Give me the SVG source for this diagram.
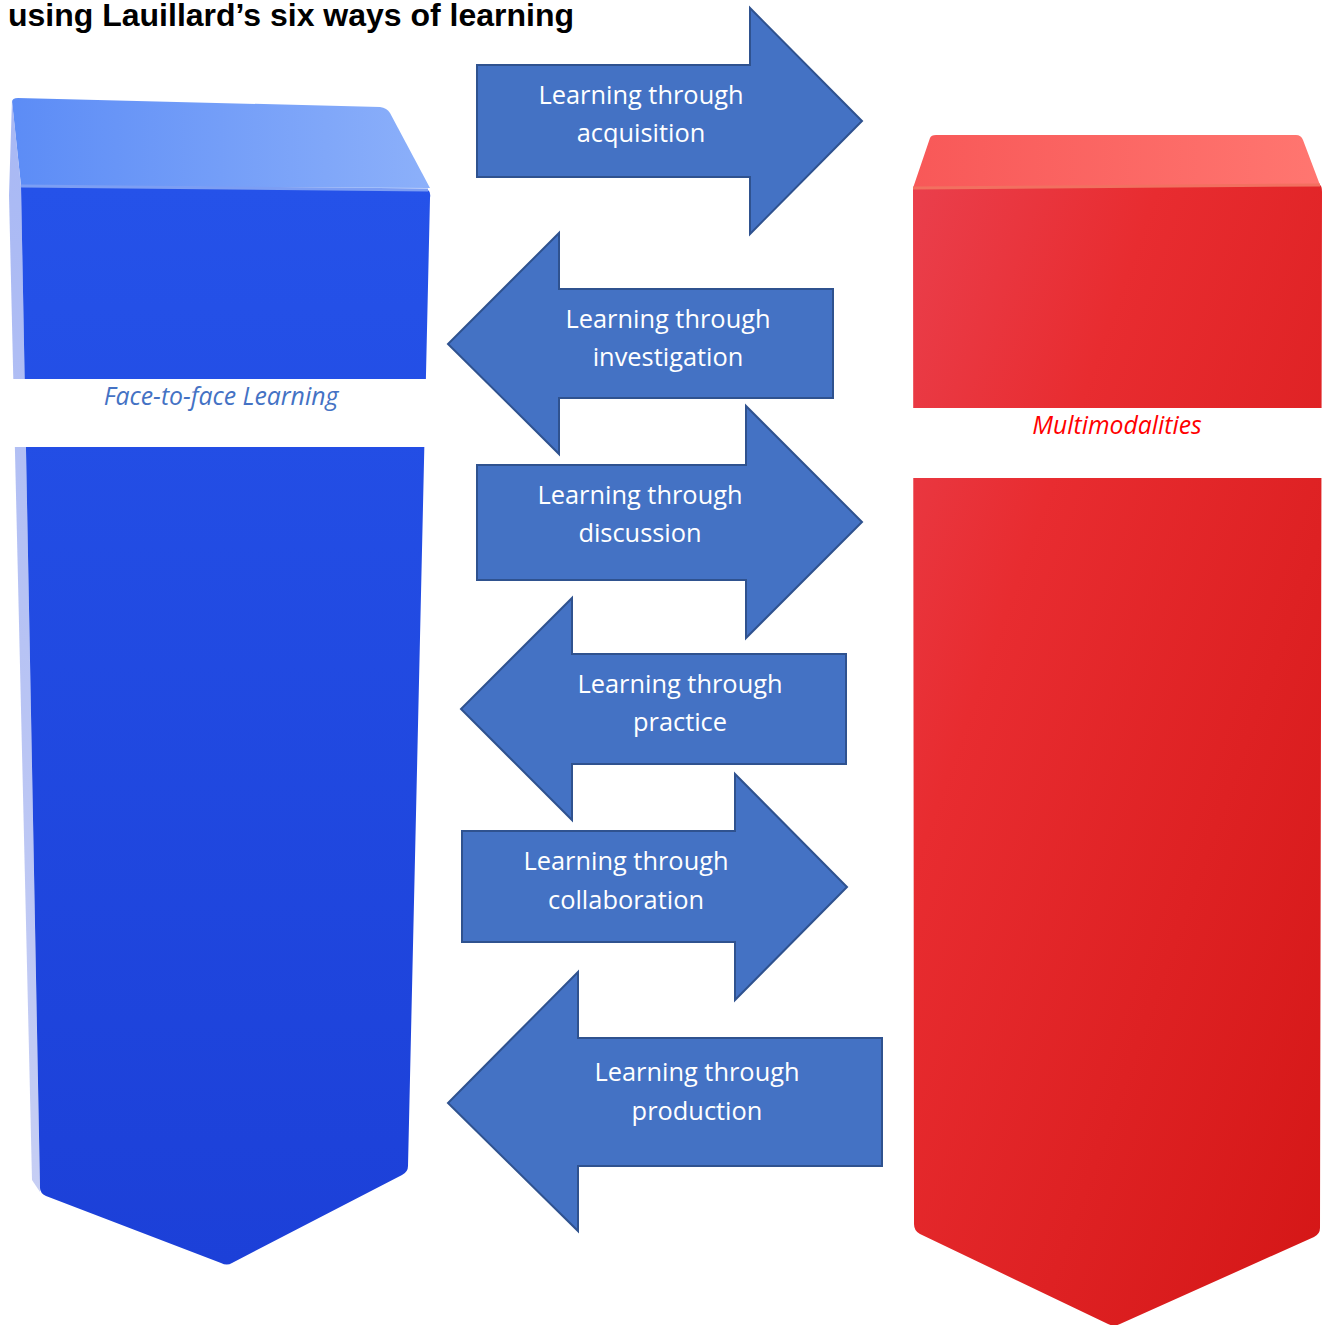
<svg xmlns="http://www.w3.org/2000/svg" width="1323" height="1325" viewBox="0 0 1323 1325">
<style>
.title{font-family:"Liberation Sans",Arial,sans-serif;font-weight:bold;font-size:32px;fill:#000}
.arrow{fill:#4472C4;stroke:#2F528F;stroke-width:2;stroke-linejoin:miter}
.at{font-family:"Open Sans","Noto Sans",sans-serif;font-size:25.4px;fill:#fff;text-anchor:middle}
.lbl{font-family:"Open Sans","Noto Sans",sans-serif;font-style:italic;font-size:24.8px;text-anchor:middle}
</style>
<defs>
<linearGradient id="bTop" x1="0" y1="0" x2="1" y2="0">
<stop offset="0" stop-color="#5C8CF6"/><stop offset="1" stop-color="#8CB0FA"/>
</linearGradient>
<linearGradient id="bFront" x1="0" y1="0" x2="0" y2="1">
<stop offset="0" stop-color="#2552E9"/><stop offset="1" stop-color="#1C40D8"/>
</linearGradient>
<linearGradient id="bSide" x1="0" y1="0" x2="0" y2="1">
<stop offset="0" stop-color="#A8B8F4"/><stop offset="1" stop-color="#C6CEF4"/>
</linearGradient>
<linearGradient id="rTop" x1="0" y1="0" x2="1" y2="0">
<stop offset="0" stop-color="#F85858"/><stop offset="1" stop-color="#FF7670"/>
</linearGradient>
<linearGradient id="rFront" x1="0" y1="0" x2="1" y2="1">
<stop offset="0" stop-color="#EA3F4C"/><stop offset="0.3" stop-color="#E82C30"/><stop offset="1" stop-color="#D41616"/>
</linearGradient>
</defs>
<text class="title" x="8" y="26">using Lauillard’s six ways of learning</text>

<g id="pillar-blue">
<path d="M12,102 Q12,98 18,98 L380,107 Q387,108 390,113 L430,188 L21,186 Z" fill="url(#bTop)"/>
<path d="M12,100 L21,186 L40,1192 L32,1180 L9,195 Z" fill="url(#bSide)"/>
<path d="M21,186 L428,190 Q431,192 430,198 L408,1166 Q408,1172 402,1175 L232,1263 Q227,1266 221,1263 L46,1196 Q40,1193 40,1188 Z" fill="url(#bFront)"/>
<path d="M21,186 L428,190" stroke="#7C9EF4" stroke-width="3" fill="none"/>
<rect x="0" y="379" width="440" height="68" fill="#fff"/>
<text class="lbl" x="221" y="405" fill="#4472C4">Face-to-face Learning</text>
</g>

<g id="pillar-red">
<path d="M930,138 Q931,135 936,135 L1296,135 Q1301,135 1303,140 L1320,185 L913,188 Z" fill="url(#rTop)"/>
<path d="M913,188 L1320,185 Q1322,186 1322,192 L1320,1228 Q1320,1234 1314,1237 L1120,1324 Q1114,1327 1108,1324 L920,1234 Q914,1231 914,1224 Z" fill="url(#rFront)"/>
<path d="M913,188 L1320,185" stroke="#F27060" stroke-width="3" fill="none"/>
<rect x="913" y="408" width="410" height="70" fill="#fff"/>
<text class="lbl" x="1117" y="434" fill="#FF0000">Multimodalities</text>
</g>

<g id="connectors">
<g id="arrow-acquisition">
<path class="arrow" d="M477,65 L750,65 L750,8 L862,121 L750,234 L750,177 L477,177 Z"/>
<text class="at" x="641" y="104">Learning through</text>
<text class="at" x="641" y="142">acquisition</text>
</g>
<g id="arrow-investigation">
<path class="arrow" d="M833,289 L559,289 L559,233 L448,344 L559,454 L559,398 L833,398 Z"/>
<text class="at" x="668" y="328">Learning through</text>
<text class="at" x="668" y="366">investigation</text>
</g>
<g id="arrow-discussion">
<path class="arrow" d="M477,465 L746,465 L746,406 L862,522 L746,638 L746,580 L477,580 Z"/>
<text class="at" x="640" y="504">Learning through</text>
<text class="at" x="640" y="542">discussion</text>
</g>
<g id="arrow-practice">
<path class="arrow" d="M846,654 L572,654 L572,598 L461,709 L572,820 L572,764 L846,764 Z"/>
<text class="at" x="680" y="693">Learning through</text>
<text class="at" x="680" y="731">practice</text>
</g>
<g id="arrow-collaboration">
<path class="arrow" d="M462,831 L735,831 L735,774 L847,887 L735,1000 L735,942 L462,942 Z"/>
<text class="at" x="626" y="870">Learning through</text>
<text class="at" x="626" y="909">collaboration</text>
</g>
<g id="arrow-production">
<path class="arrow" d="M882,1038 L578,1038 L578,972 L448,1103 L578,1231 L578,1166 L882,1166 Z"/>
<text class="at" x="697" y="1081">Learning through</text>
<text class="at" x="697" y="1120">production</text>
</g>
</g>
</svg>
